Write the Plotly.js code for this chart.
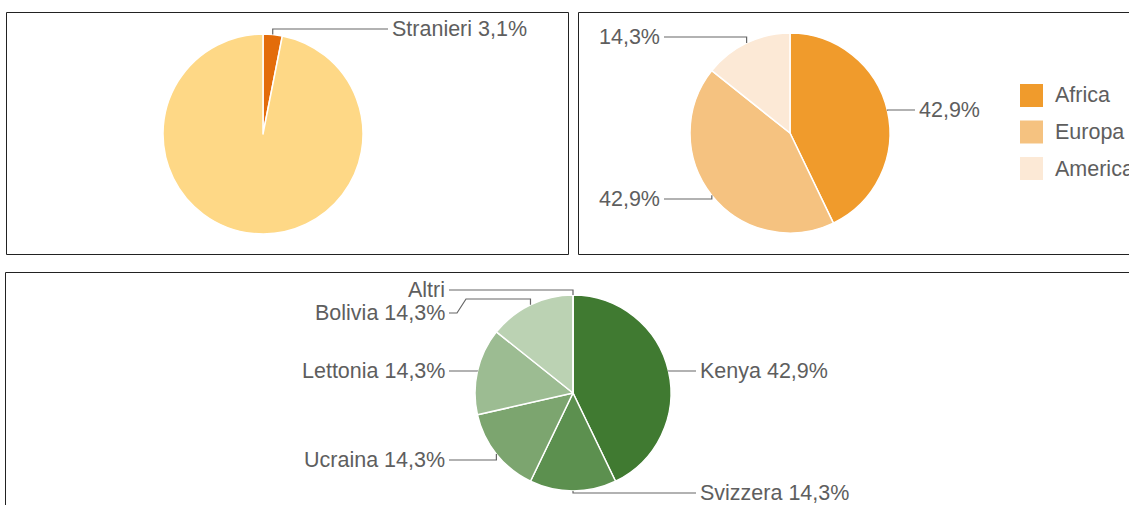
<!DOCTYPE html>
<html>
<head>
<meta charset="utf-8">
<script src="https://cdn.plot.ly/plotly-3.0.1.min.js"></script>
<style>
html,body{margin:0;padding:0;background:#fff;}
#chart{width:1129px;height:505px;}
</style>
</head>
<body>
<div id="chart"></div>
<script>
// ---------- DATA ----------
const residentsLabels = ['Stranieri', 'Italiani'];
const residentsValues = [3.1, 96.9];

const continentLabels = ['Africa', 'Europa', 'America'];
const continentValues = [42.9, 42.9, 14.3];

const countryLabels = ['Kenya', 'Svizzera', 'Ucraina', 'Lettonia', 'Bolivia', 'Altri'];
const countryValues = [42.9, 14.3, 14.3, 14.3, 14.3, 0];

// ---------- STYLE / LAYOUT ----------
const W = 1129, H = 505;
const FONT = 'Liberation Sans, Arial, sans-serif';
const TEXT_COLOR = '#5e5e5e';
const LINE_COLOR = '#666666';
const FS = 21.5;

const residentsColors = ['#E36C0A', '#FED886'];
const continentColors = ['#F09B2C', '#F5C280', '#FCE9D6'];
const countryColors = ['#407A31', '#5C904F', '#7CA56F', '#9CBC92', '#BBD2B3', '#D5E4D0'];

const pies = [
  {labels: residentsLabels, values: residentsValues, colors: residentsColors,
   cx: 263, cy: 134, r: 100, fmt: 'name+pct',
   place: [{side: 'right', y: 29}, null]},
  {labels: continentLabels, values: continentValues, colors: continentColors,
   cx: 790, cy: 133, r: 100, fmt: 'pct',
   place: [{side: 'right', y: 110}, {side: 'left', y: 199}, {side: 'left', y: 37}]},
  {labels: countryLabels, values: countryValues, colors: countryColors,
   cx: 573, cy: 393, r: 98, fmt: 'name+pct',
   place: [{side: 'right', y: 371}, {side: 'right', y: 493}, {side: 'left', y: 460},
           {side: 'left', y: 371}, {side: 'left', y: 313, elbow: 299}, {side: 'left', y: 290}]}
];

const px = x => x / W;
const py = y => 1 - y / H;
const fmtPct = v => v.toFixed(1).replace('.', ',') + '%';

const traces = [];
const shapes = [];
const annotations = [];

// panel frames
shapes.push({type: 'rect', xref: 'paper', yref: 'paper', x0: px(6.5), x1: px(568.5), y0: py(254.5), y1: py(12.5), line: {color: '#222', width: 1}});
shapes.push({type: 'rect', xref: 'paper', yref: 'paper', x0: px(578.5), x1: px(1140), y0: py(254.5), y1: py(12.5), line: {color: '#222', width: 1}});
shapes.push({type: 'rect', xref: 'paper', yref: 'paper', x0: px(5.5), x1: px(1140), y0: py(520), y1: py(272.5), line: {color: '#222', width: 1}});

pies.forEach((p, i) => {
  traces.push({
    type: 'pie',
    labels: p.labels,
    values: p.values,
    sort: false,
    direction: 'clockwise',
    rotation: 0,
    textinfo: 'none',
    hoverinfo: 'none',
    showlegend: false,
    marker: {colors: p.colors, line: {color: '#ffffff', width: 1.5}},
    domain: {x: [px(p.cx - p.r), px(p.cx + p.r)], y: [py(p.cy + p.r), py(p.cy - p.r)]}
  });

  const total = p.values.reduce((a, b) => a + b, 0);
  let cum = 0;
  p.values.forEach((v, k) => {
    const mid = (cum + v / 2) / total * 2 * Math.PI;
    cum += v;
    const pl = p.place[k];
    if (!pl) return;
    const ax = p.cx + p.r * Math.sin(mid);
    const ay = p.cy - p.r * Math.cos(mid);
    const right = pl.side === 'right';
    const lineEnd = right ? p.cx + p.r + 25 : p.cx - p.r - 26;
    let path;
    if (pl.elbow !== undefined) {
      const dir = right ? -1 : 1;
      path = `M${px(ax)},${py(ay)} L${px(ax)},${py(pl.elbow)} L${px(lineEnd + dir * 17)},${py(pl.elbow)} L${px(lineEnd + dir * 8)},${py(pl.y)} L${px(lineEnd)},${py(pl.y)}`;
    } else {
      path = `M${px(ax)},${py(ay)} L${px(ax)},${py(pl.y)} L${px(lineEnd)},${py(pl.y)}`;
    }
    shapes.push({type: 'path', xref: 'paper', yref: 'paper', path: path, line: {color: LINE_COLOR, width: 1.2}});
    let txt;
    if (v === 0) txt = p.labels[k];
    else if (p.fmt === 'pct') txt = fmtPct(v);
    else txt = p.labels[k] + ' ' + fmtPct(v);
    annotations.push({
      xref: 'paper', yref: 'paper', showarrow: false,
      x: px(right ? lineEnd + 2 : lineEnd - 2), y: py(pl.y),
      xanchor: right ? 'left' : 'right', yanchor: 'middle',
      text: txt, font: {family: FONT, size: FS, color: TEXT_COLOR}
    });
  });
});

// legend for continents panel
continentLabels.forEach((lab, k) => {
  const top = 84 + k * 36.5;
  shapes.push({type: 'rect', xref: 'paper', yref: 'paper', x0: px(1020), x1: px(1043), y0: py(top + 23), y1: py(top),
               fillcolor: continentColors[k], line: {width: 0}});
  annotations.push({xref: 'paper', yref: 'paper', showarrow: false, x: px(1053), y: py(top + 11.5),
                    xanchor: 'left', yanchor: 'middle', text: lab,
                    font: {family: FONT, size: FS, color: TEXT_COLOR}});
});

const layout = {
  width: W, height: H,
  margin: {l: 0, r: 0, t: 0, b: 0},
  paper_bgcolor: '#ffffff',
  showlegend: false,
  shapes: shapes,
  annotations: annotations,
  font: {family: FONT}
};

Plotly.newPlot('chart', traces, layout, {displayModeBar: false, staticPlot: true});
</script>
</body>
</html>
